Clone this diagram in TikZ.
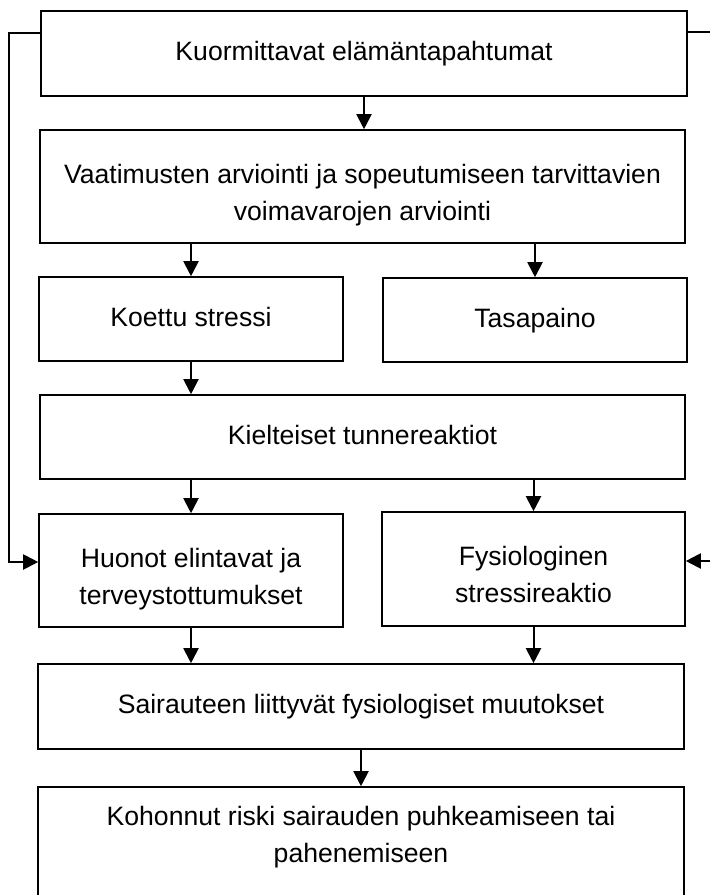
\documentclass[tikz,border=0pt]{standalone}
\usepackage{fontspec}
\setmainfont{Liberation Sans}
\usetikzlibrary{arrows.meta}
\newcommand{\topgap}{\rule{0pt}{42pt}}
\begin{document}
\begin{tikzpicture}[x=1pt,y=-1pt,
  txt/.style={inner sep=0pt, align=center, font=\fontsize{26.6}{37}\selectfont},
  box/.style={txt, draw, line width=1.6pt, rectangle,
    execute at begin node=\strut, execute at end node=\strut},
  conn/.style={line width=2pt, -{Triangle[width=15pt,length=15pt]}}]
\useasboundingbox (0,0) rectangle (710,895);
\node[box, minimum width=646pt, minimum height=85pt] (A) at (364,53.5) {Kuormittavat elämäntapahtumat};
\node[box, minimum width=645pt, minimum height=113pt] (B) at (362.5,186.5) {\topgap Vaatimusten arviointi ja sopeutumiseen tarvittavien\\voimavarojen arviointi};
\node[box, minimum width=304pt, minimum height=84pt] (C) at (191,319) {Koettu stressi};
\node[box, minimum width=304pt, minimum height=84pt] (D) at (535,320) {Tasapaino};
\node[box, minimum width=645pt, minimum height=84pt] (E) at (362.5,437) {Kielteiset tunnereaktiot};
\node[box, minimum width=304pt, minimum height=113pt] (F) at (191,570.5) {\topgap Huonot elintavat ja\\terveystottumukset};
\node[box, minimum width=303pt, minimum height=114pt] (G) at (533.5,569) {\topgap Fysiologinen\\stressireaktio};
\node[box, minimum width=646pt, minimum height=85pt] (H) at (361,706.5) {Sairauteen liittyvät fysiologiset muutokset};
\node[draw, line width=1.6pt, rectangle, inner sep=0pt, minimum width=646pt, minimum height=138pt] (I) at (361,856) {};
\node[txt, anchor=base] (It) at (361,862) {Kohonnut riski sairauden puhkeamiseen tai\\pahenemiseen};
\coordinate (L1) at (9,33);
\coordinate (R1) at (717,32);
\draw[conn] (A.south) -- (A.south |- B.north);
\draw[conn] (C.north |- B.south) -- (C.north);
\draw[conn] (D.north |- B.south) -- (D.north);
\draw[conn] (C.south) -- (C.south |- E.north);
\draw[conn] (F.north |- E.south) -- (F.north);
\draw[conn] (G.north |- E.south) -- (G.north);
\draw[conn] (F.south) -- (F.south |- H.north);
\draw[conn] (G.south) -- (G.south |- H.north);
\draw[conn] (H.south) -- (H.south |- I.north);
\draw[conn] ([yshift=20.5pt]A.west) -- (L1) |- ([yshift=8.5pt]F.west);
\draw[conn] ([yshift=21.5pt]A.east) -- (R1) |- ([yshift=8pt]G.east);
\end{tikzpicture}
\end{document}
